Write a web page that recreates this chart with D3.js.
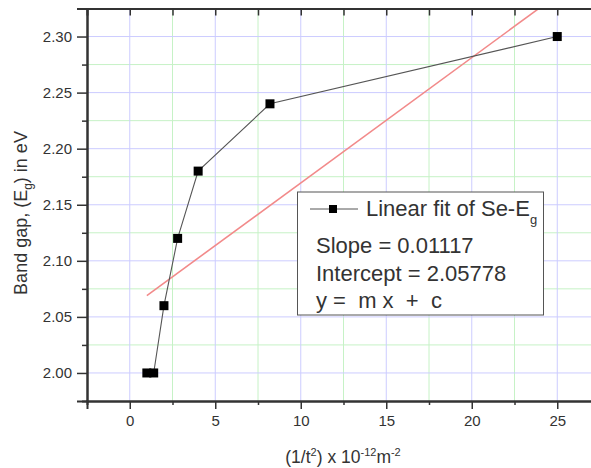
<!DOCTYPE html>
<html>
<head>
<meta charset="utf-8">
<script src="https://cdn.jsdelivr.net/npm/d3@7"></script>
<style>
  body { margin: 0; background: #fff; }
  text { font-family: "Liberation Sans", Arial, sans-serif; fill: #333; }
</style>
</head>
<body>
<div id="chart"></div>
<script>
// data
var xVals = [1.0, 1.4, 2.0, 2.8, 4.0, 8.2, 25];
var yVals = [2.00, 2.00, 2.06, 2.12, 2.18, 2.24, 2.30];
var slope = 0.01117;
var intercept = 2.05778;
var fitRange = [1.0, 25];
var xMajor = [0, 5, 10, 15, 20, 25];
var xMinor = [2.5, 7.5, 12.5, 17.5, 22.5];
var yMajor = [2.00, 2.05, 2.10, 2.15, 2.20, 2.25, 2.30];
var yMinor = [2.025, 2.075, 2.125, 2.175, 2.225, 2.275];

var W = 591, H = 468;
var pLeft = 87, pTop = 8.5, pRight = 600, pBottom = 401;

var x = d3.scaleLinear().domain([-2.5, 27.5]).range([pLeft, pRight]);
var y = d3.scaleLinear().domain([1.975, 2.325]).range([pBottom, pTop]);

var svg = d3.select("#chart")
    .append("svg")
    .attr("width", W)
    .attr("height", H);

// grid
var grid = svg.append("g");
grid.selectAll(".gxm").data(xMinor).enter().append("line")
    .attr("x1", d => x(d)).attr("x2", d => x(d))
    .attr("y1", pTop).attr("y2", pBottom)
    .attr("stroke", "#c6f2c6").attr("stroke-width", 1);
grid.selectAll(".gym").data(yMinor).enter().append("line")
    .attr("x1", pLeft).attr("x2", pRight)
    .attr("y1", d => y(d)).attr("y2", d => y(d))
    .attr("stroke", "#c6f2c6").attr("stroke-width", 1);
grid.selectAll(".gx").data(xMajor).enter().append("line")
    .attr("x1", d => x(d)).attr("x2", d => x(d))
    .attr("y1", pTop).attr("y2", pBottom)
    .attr("stroke", "#ccccff").attr("stroke-width", 1);
grid.selectAll(".gy").data(yMajor).enter().append("line")
    .attr("x1", pLeft).attr("x2", pRight)
    .attr("y1", d => y(d)).attr("y2", d => y(d))
    .attr("stroke", "#ccccff").attr("stroke-width", 1);

// clip for plot area
svg.append("clipPath").attr("id", "clip")
    .append("rect").attr("x", pLeft).attr("y", pTop)
    .attr("width", pRight - pLeft).attr("height", pBottom - pTop);

// fit line
svg.append("line")
    .attr("clip-path", "url(#clip)")
    .attr("x1", x(fitRange[0])).attr("y1", y(slope * fitRange[0] + intercept))
    .attr("x2", x(fitRange[1])).attr("y2", y(slope * fitRange[1] + intercept))
    .attr("stroke", "#f28a8a").attr("stroke-width", 1.6);

// data line + markers
var pts = xVals.map((v, i) => [v, yVals[i]]);
svg.append("path")
    .datum(pts)
    .attr("fill", "none")
    .attr("stroke", "#555")
    .attr("stroke-width", 1.1)
    .attr("d", d3.line().x(d => x(d[0])).y(d => y(d[1])));
svg.selectAll(".pt").data(pts).enter().append("rect")
    .attr("x", d => x(d[0]) - 4.5)
    .attr("y", d => y(d[1]) - 4.5)
    .attr("width", 9).attr("height", 9)
    .attr("fill", "#000");

// axes
function styleAxis(g) {
    g.select(".domain").attr("stroke", "#333").attr("stroke-width", 2);
    g.selectAll(".tick line").attr("stroke", "#333").attr("stroke-width", 1.5);
    g.selectAll(".tick text").style("font-size", "15px").attr("fill", "#333");
}

var xAxis = d3.axisBottom(x).tickValues(xMajor).tickSize(8).tickPadding(6).tickFormat(d3.format("d"));
svg.append("g").attr("transform", "translate(0," + pBottom + ")").call(xAxis).call(styleAxis);
svg.append("g").attr("transform", "translate(0," + pBottom + ")")
    .call(d3.axisBottom(x).tickValues(xMinor).tickSize(4).tickFormat(""))
    .call(styleAxis);

var yAxis = d3.axisLeft(y).tickValues(yMajor).tickSize(10).tickPadding(5).tickFormat(d3.format(".2f"));
svg.append("g").attr("transform", "translate(" + pLeft + ",0)").call(yAxis).call(styleAxis);
svg.append("g").attr("transform", "translate(" + pLeft + ",0)")
    .call(d3.axisLeft(y).tickValues(yMinor).tickSize(5).tickFormat(""))
    .call(styleAxis);

// top axis, inward ticks
svg.append("g").attr("transform", "translate(0," + pTop + ")")
    .call(d3.axisBottom(x).tickValues(xMajor.concat(xMinor)).tickSize(7).tickFormat(""))
    .call(styleAxis);

// axis titles
var xt = svg.append("text")
    .attr("x", 343).attr("y", 463)
    .attr("text-anchor", "middle")
    .style("font-size", "17.5px");
xt.append("tspan").text("(1/t");
xt.append("tspan").attr("dy", -7).style("font-size", "11px").text("2");
xt.append("tspan").attr("dy", 7).text(") x 10");
xt.append("tspan").attr("dy", -7).style("font-size", "11px").text("-12");
xt.append("tspan").attr("dy", 7).text("m");
xt.append("tspan").attr("dy", -7).style("font-size", "11px").text("-2");

var yt = svg.append("text")
    .attr("transform", "translate(27,213) rotate(-90)")
    .attr("text-anchor", "middle")
    .style("font-size", "18px");
yt.append("tspan").text("Band gap, (E");
yt.append("tspan").attr("dy", 5).style("font-size", "12px").text("g");
yt.append("tspan").attr("dy", -5).text(") in eV");

// legend
var lg = svg.append("g");
lg.append("rect")
    .attr("x", 297.5).attr("y", 192)
    .attr("width", 246).attr("height", 123)
    .attr("fill", "#fff").attr("stroke", "#555").attr("stroke-width", 1);
lg.append("line")
    .attr("x1", 310).attr("x2", 358).attr("y1", 209).attr("y2", 209)
    .attr("stroke", "#555").attr("stroke-width", 1);
lg.append("rect")
    .attr("x", 329).attr("y", 205).attr("width", 8).attr("height", 8)
    .attr("fill", "#000");
var l1 = lg.append("text").attr("x", 366).attr("y", 216).style("font-size", "22px");
l1.append("tspan").text("Linear fit of Se-E");
l1.append("tspan").attr("dy", 8).style("font-size", "13px").text("g");
lg.append("text").attr("x", 316).attr("y", 253).style("font-size", "22px").text("Slope = 0.01117");
lg.append("text").attr("x", 316).attr("y", 281).style("font-size", "22px").text("Intercept = 2.05778");
lg.append("text").attr("x", 316).attr("y", 308).style("font-size", "22px")
    .attr("xml:space", "preserve").style("white-space", "pre").text("y =  m x  +  c");
</script>
</body>
</html>
